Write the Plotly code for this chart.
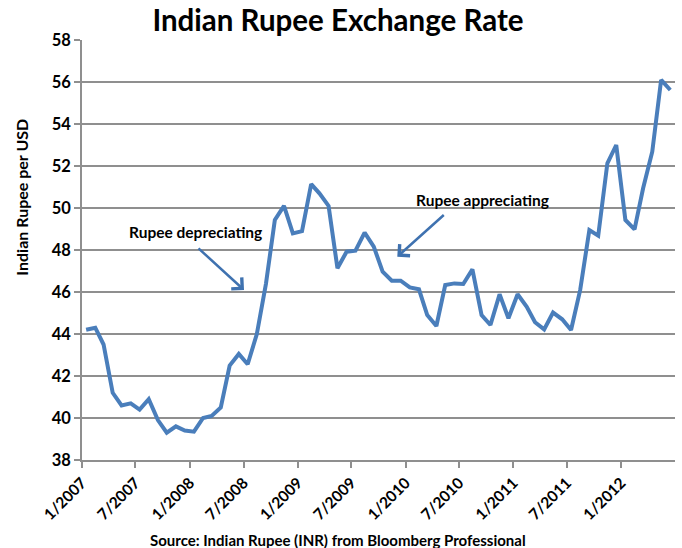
import plotly.graph_objects as go
import pandas as pd

# --- Data ---
# one point per month, plotted at mid-month (Jan 2007 .. Jun 2012)
months = pd.date_range("2007-01-01", periods=66, freq="MS") + pd.Timedelta(days=14)

inr_per_usd = [
    44.2, 44.3, 43.5, 41.2, 40.6, 40.7, 40.4, 40.9, 39.9, 39.3, 39.6, 39.4,   # 2007
    39.35, 40.0, 40.1, 40.5, 42.5, 43.05, 42.56, 44.0, 46.4, 49.43, 50.1, 48.79,  # 2008
    48.9, 51.14, 50.7, 50.1, 47.13, 47.92, 47.97, 48.83, 48.16, 46.97, 46.54, 46.54,  # 2009
    46.22, 46.13, 44.9, 44.38, 46.33, 46.41, 46.38, 47.08, 44.9, 44.43, 45.89, 44.75,  # 2010
    45.89, 45.3, 44.56, 44.22, 45.02, 44.7, 44.19, 46.1, 48.95, 48.68, 52.13, 53.0,  # 2011
    49.43, 48.98, 50.94, 52.68, 56.1, 55.62,  # 2012
]

tick_dates = ["2007-01-01", "2007-07-01", "2008-01-01", "2008-07-01", "2009-01-01",
              "2009-07-01", "2010-01-01", "2010-07-01", "2011-01-01", "2011-07-01",
              "2012-01-01"]
tick_labels = ["1/2007", "7/2007", "1/2008", "7/2008", "1/2009", "7/2009",
               "1/2010", "7/2010", "1/2011", "7/2011", "1/2012"]

FONT = "Lato"
LINE_BLUE = "#4a7ebb"
ARROW_BLUE = "#3f72b0"
GRID = "#8f8f8f"

fig = go.Figure()

fig.add_trace(
    go.Scatter(
        x=months,
        y=inr_per_usd,
        mode="lines",
        line=dict(color=LINE_BLUE, width=4),
        showlegend=False,
    )
)

# --- Annotations: labels, arrows, axis title, source ---
annotations = [
    dict(text="<b>Rupee depreciating</b>", x=0.192, y=0.543, xref="paper", yref="paper",
         xanchor="center", yanchor="middle",
         showarrow=False, font=dict(family=FONT, size=15.5, color="black")),
    dict(text="<b>Rupee appreciating</b>", x=0.676, y=0.619, xref="paper", yref="paper",
         xanchor="center", yanchor="middle",
         showarrow=False, font=dict(family=FONT, size=15.5, color="black")),
    dict(text="", x=0.2732, y=0.4048, xref="paper", yref="paper",
         showarrow=True, ax=-47, ay=-43, arrowhead=4, arrowsize=1.2, arrowwidth=2.5,
         arrowcolor=ARROW_BLUE),
    dict(text="", x=0.5317, y=0.4841, xref="paper", yref="paper",
         showarrow=True, ax=48, ay=-43, arrowhead=4, arrowsize=1.2, arrowwidth=2.5,
         arrowcolor=ARROW_BLUE),
    dict(text="<b>Indian Rupee per USD</b>", x=-0.1012, y=0.627, xref="paper", yref="paper",
         xanchor="center", yanchor="middle", textangle=-90, showarrow=False,
         font=dict(family=FONT, size=16, color="black")),
    dict(text="<b>Source: Indian Rupee (INR) from Bloomberg Professional</b>",
         x=0.4317, y=-0.1905, xref="paper", yref="paper", showarrow=False,
         xanchor="center", yanchor="middle",
         font=dict(family=FONT, size=15, color="black")),
]

fig.update_layout(
    width=682,
    height=548,
    paper_bgcolor="white",
    plot_bgcolor="white",
    margin=dict(l=82, r=7, t=40, b=88),
    title=dict(
        text="<b>Indian Rupee Exchange Rate</b>",
        x=0.4956, y=0.9617, xref="container", yref="container",
        xanchor="center", yanchor="middle",
        font=dict(family=FONT, size=29.5, color="black"),
    ),
    annotations=annotations,
    xaxis=dict(
        type="date",
        range=["2007-01-01", "2012-07-01"],
        tickvals=tick_dates,
        ticktext=[f"<b>{t}</b>" for t in tick_labels],
        tickangle=-45,
        tickfont=dict(family=FONT, size=15.5, color="black"),
        ticks="outside", ticklen=6, tickcolor=GRID, tickwidth=1.5,
        showline=True, linecolor=GRID, linewidth=1.5,
        showgrid=False, zeroline=False,
        automargin=False,
    ),
    yaxis=dict(
        range=[38, 58],
        dtick=2,
        tickfont=dict(family=FONT, size=16.5, color="black", weight="bold"),
        ticks="outside", ticklen=6, tickcolor=GRID, tickwidth=1.5,
        showline=True, linecolor=GRID, linewidth=1.5,
        showgrid=True, gridcolor=GRID, gridwidth=1.5,
        zeroline=False,
        automargin=False,
    ),
)

# drop the default 8px body margin so the figure fills the window exactly
fig.write_html(
    "out.html",
    config={"displayModeBar": False},
    post_script="document.body.style.margin = '0';",
)
